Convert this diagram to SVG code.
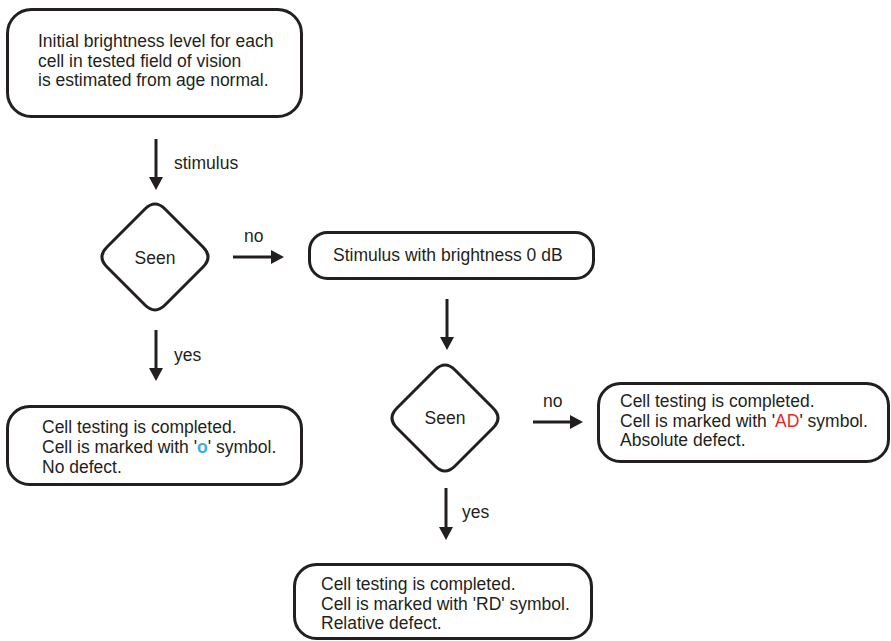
<svg xmlns="http://www.w3.org/2000/svg" width="891" height="641" viewBox="0 0 891 641">
<style>
.box{fill:#fff;stroke:#231f20;stroke-width:3}
.dia{fill:#fff;stroke:#231f20;stroke-width:3;stroke-linejoin:round}
.t{font-family:"Liberation Sans",Arial,sans-serif;font-size:17.5px;fill:#231f20}
.c{text-anchor:middle}
.ln{stroke:#231f20;stroke-width:3;fill:none}
</style>
<defs>
<marker id="ah" markerUnits="userSpaceOnUse" markerWidth="14" markerHeight="14" refX="1" refY="7" orient="auto" viewBox="0 0 14 14">
<path d="M0,0 L13,7 L0,14 Z" fill="#231f20"/>
</marker>
</defs>
<rect width="891" height="641" fill="#fff"/>
<g id="start">
<rect class="box" x="7.5" y="9.5" width="294" height="107" rx="24"/>
<text class="t" x="38" y="47">Initial brightness level for each</text>
<text class="t" x="38" y="66.5">cell in tested field of vision</text>
<text class="t" x="38" y="86">is estimated from age normal.</text>
</g>
<g id="seen1">
<path class="dia" d="M145,209 Q155,199 165,209 L203,247 Q213,257 203,267 L165,305 Q155,315 145,305 L107,267 Q97,257 107,247 Z"/>
<text class="t c" x="155" y="264">Seen</text>
</g>
<g id="stim0">
<rect class="box" x="309.5" y="232.5" width="284" height="46" rx="18"/>
<text class="t" x="333" y="261">Stimulus with brightness 0 dB</text>
</g>
<g id="seen2">
<path class="dia" d="M435,370 Q445,360 455,370 L493,408 Q503,418 493,428 L455,466 Q445,476 435,466 L397,428 Q387,418 397,408 Z"/>
<text class="t c" x="445" y="424">Seen</text>
</g>
<g id="nodefect">
<rect class="box" x="7.5" y="406.5" width="294" height="78" rx="22"/>
<text class="t" x="42" y="433">Cell testing is completed.</text>
<text class="t" x="42" y="453">Cell is marked with '<tspan font-weight="bold" fill="#3ab0e2">o</tspan>' symbol.</text>
<text class="t" x="42" y="473">No defect.</text>
</g>
<g id="absolute">
<rect class="box" x="598.5" y="383.5" width="290" height="78" rx="22"/>
<text class="t" x="620" y="407">Cell testing is completed.</text>
<text class="t" x="620" y="427">Cell is marked with '<tspan fill="#e8262a">AD</tspan>' symbol.</text>
<text class="t" x="620" y="446">Absolute defect.</text>
</g>
<g id="relative">
<rect class="box" x="294.5" y="564.5" width="297" height="74" rx="22"/>
<text class="t" x="321" y="590">Cell testing is completed.</text>
<text class="t" x="321" y="610">Cell is marked with 'RD' symbol.</text>
<text class="t" x="321" y="629">Relative defect.</text>
</g>
<g id="connectors">
<line class="ln" x1="156" y1="139" x2="156" y2="178" marker-end="url(#ah)"/>
<text class="t" x="174" y="169">stimulus</text>
<line class="ln" x1="233" y1="257" x2="272" y2="257" marker-end="url(#ah)"/>
<text class="t" x="244" y="242">no</text>
<line class="ln" x1="156" y1="330" x2="156" y2="369" marker-end="url(#ah)"/>
<text class="t" x="174" y="361">yes</text>
<line class="ln" x1="447" y1="299" x2="447" y2="338" marker-end="url(#ah)"/>
<line class="ln" x1="533" y1="422" x2="571" y2="422" marker-end="url(#ah)"/>
<text class="t" x="543" y="407">no</text>
<line class="ln" x1="446" y1="488" x2="446" y2="528" marker-end="url(#ah)"/>
<text class="t" x="462" y="518">yes</text>
</g>
</svg>
